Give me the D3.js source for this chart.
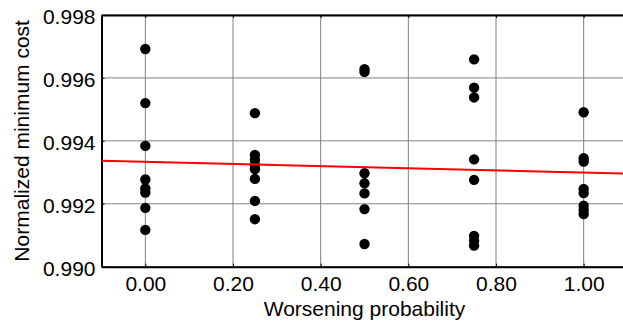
<!DOCTYPE html>
<html>
<head>
<meta charset="utf-8">
<script src="https://cdn.jsdelivr.net/npm/d3@7"></script>
<style>
  body { margin: 0; background: #fff; }
  svg { display: block; }
  svg text { font-family: "Liberation Sans", Arial, sans-serif; font-size: 21px; fill: #000; }
</style>
</head>
<body>
<svg id="chart" width="623" height="324"></svg>
<script>
// Data
var probabilities = [0, 0.25, 0.5, 0.75, 1.0];
var costsAt000 = [0.99692, 0.99520, 0.99384, 0.99277, 0.99249, 0.99236, 0.99187, 0.99117];
var costsAt025 = [0.99488, 0.99355, 0.99339, 0.99323, 0.99310, 0.99279, 0.99209, 0.99151];
var costsAt050 = [0.99628, 0.99619, 0.99297, 0.99265, 0.99233, 0.99183, 0.99072];
var costsAt075 = [0.99659, 0.99569, 0.99538, 0.99341, 0.99276, 0.99098, 0.99083, 0.99067];
var costsAt100 = [0.99491, 0.99345, 0.99334, 0.99247, 0.99234, 0.99194, 0.99180, 0.99167];
var fitX = [-0.1, 1.1];
var fitCost = [0.99337, 0.99296];
var xTicks = [0, 0.2, 0.4, 0.6, 0.8, 1.0];
var yTicks = [0.990, 0.992, 0.994, 0.996, 0.998];

var columns = [costsAt000, costsAt025, costsAt050, costsAt075, costsAt100];
var points = [];
columns.forEach(function(col, i) {
    col.forEach(function(v) { points.push({p: probabilities[i], cost: v}); });
});

var svg = d3.select("#chart");
var plotLeft = 101.5, plotRight = 627.5, plotTop = 15, plotBottom = 266.7;

var x = d3.scaleLinear().domain([-0.1, 1.1]).range([plotLeft, plotRight]);
var y = d3.scaleLinear().domain([0.990, 0.998]).range([plotBottom, plotTop]);

// grid
var grid = svg.append("g");
grid.selectAll(".vgrid")
    .data(xTicks)
    .enter().append("line")
    .attr("x1", d => x(d)).attr("x2", d => x(d))
    .attr("y1", plotTop).attr("y2", plotBottom)
    .attr("stroke", "#808080").attr("stroke-width", 1);
grid.selectAll(".hgrid")
    .data(yTicks)
    .enter().append("line")
    .attr("x1", plotLeft).attr("x2", plotRight)
    .attr("y1", d => y(d)).attr("y2", d => y(d))
    .attr("stroke", "#808080").attr("stroke-width", 1);

// axes
var xAxis = svg.append("g")
    .attr("transform", "translate(0," + plotBottom + ")")
    .call(d3.axisBottom(x).tickValues(xTicks).tickFormat(d3.format(".2f")).tickSizeInner(-3).tickSizeOuter(0).tickPadding(9));
xAxis.select(".domain").attr("stroke", "#000").attr("stroke-width", 2);
xAxis.selectAll(".tick line").attr("stroke", "#000");

var topAxis = svg.append("g")
    .attr("transform", "translate(0," + plotTop + ")")
    .call(d3.axisTop(x).tickValues(xTicks).tickFormat("").tickSizeInner(-3).tickSizeOuter(0));
topAxis.select(".domain").attr("stroke", "#000").attr("stroke-width", 2);

var yAxis = svg.append("g")
    .attr("transform", "translate(" + plotLeft + ",0)")
    .call(d3.axisLeft(y).tickValues(yTicks).tickFormat(d3.format(".3f")).tickSizeInner(-3).tickSizeOuter(0).tickPadding(6));
yAxis.select(".domain").attr("stroke", "#000").attr("stroke-width", 2);
yAxis.selectAll("text").attr("dy", "0.4em");

// points
svg.append("g").selectAll("circle")
    .data(points)
    .enter().append("circle")
    .attr("cx", d => x(d.p))
    .attr("cy", d => y(d.cost))
    .attr("r", 5.2)
    .attr("fill", "#000");

// fit line
svg.append("path")
    .datum(fitX.map((v, i) => [v, fitCost[i]]))
    .attr("d", d3.line().x(d => x(d[0])).y(d => y(d[1])))
    .attr("fill", "none")
    .attr("stroke", "#ff0000")
    .attr("stroke-width", 2);

// labels
svg.append("text")
    .attr("x", (plotLeft + plotRight) / 2)
    .attr("y", 316)
    .attr("text-anchor", "middle")
    .text("Worsening probability");

svg.append("text")
    .attr("transform", "translate(28.5," + ((plotTop + plotBottom) / 2) + ") rotate(-90)")
    .attr("text-anchor", "middle")
    .text("Normalized minimum cost");
</script>
</body>
</html>
